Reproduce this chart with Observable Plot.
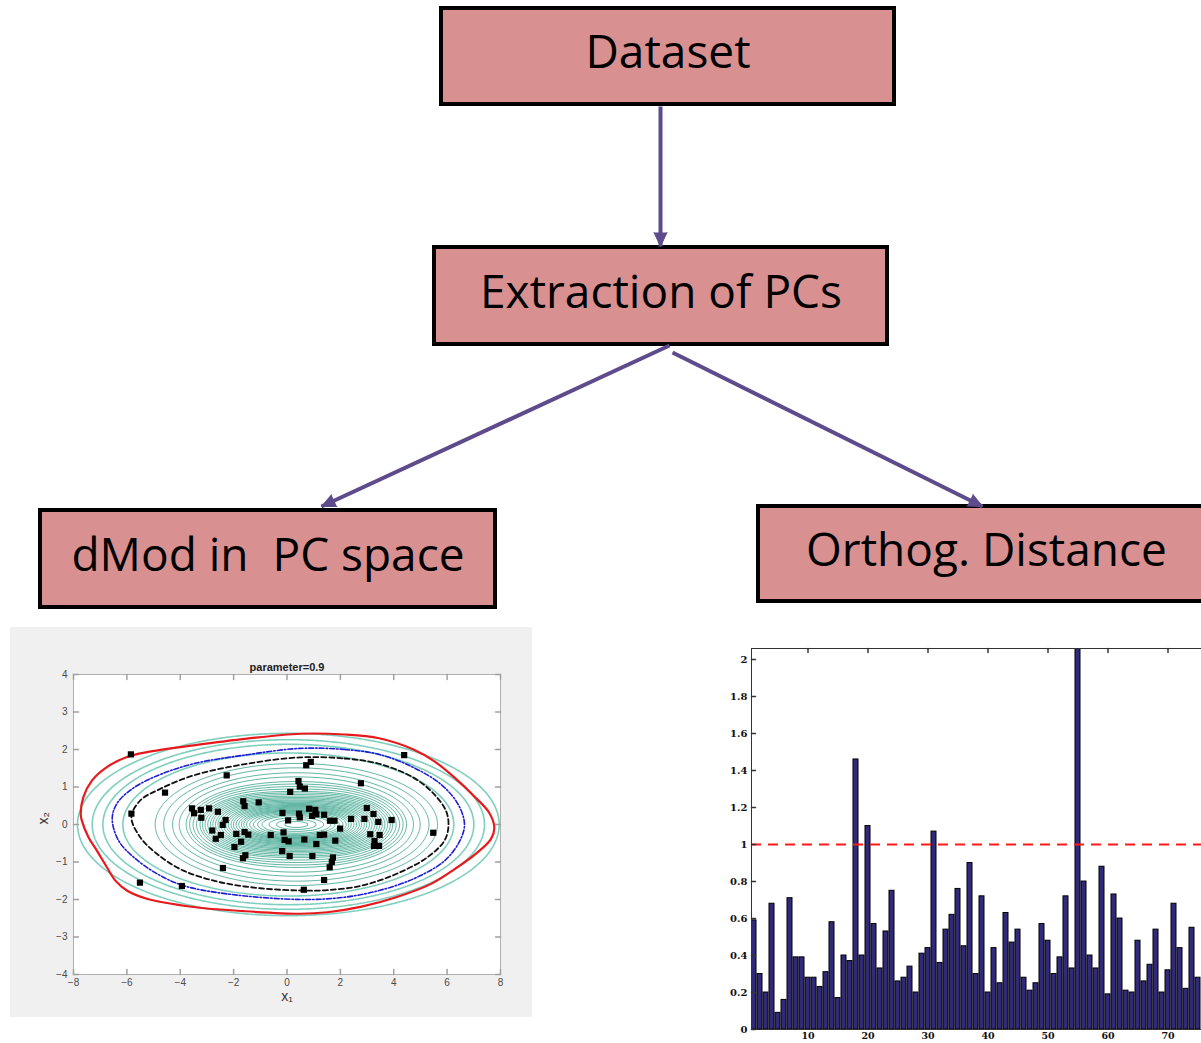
<!DOCTYPE html>
<html><head><meta charset="utf-8">
<script src="https://cdn.jsdelivr.net/npm/d3@7"></script>
<script src="https://cdn.jsdelivr.net/npm/@observablehq/plot@0.6"></script>
<style>
html,body{margin:0;padding:0;background:#fff;overflow:hidden;}
#page{position:relative;width:1201px;height:1043px;overflow:hidden;background:#fff;}
#page svg{position:absolute;max-width:none;}
text{white-space:pre;}
</style></head><body><div id="page"></div>
<script>
// ---------- data ----------
const boxLabels = ["Dataset", "Extraction of PCs", "dMod in  PC space", "Orthog. Distance"];

const scatterX1 = [-5.85, 4.39, 0.72, 0.89, -2.26, 2.77, -4.57, 0.43, 0.48, 0.67, 0.12, -1.64, -1.59, -1.06, -3.56, -3.48, -3.23, -3.21, -2.92, -2.59, -5.83, -2.30, -2.41, -0.17, 0.04, 0.45, 0.48, 0.83, 1.06, 1.10, 0.94, 1.39, 1.61, 1.78, 1.99, 2.40, 2.99, 3.24, 2.90, 3.42, 3.92, 5.48, -2.80, -2.48, -2.67, -1.90, -1.59, -1.45, -1.72, -1.97, -0.61, -0.13, -0.09, 0.06, 0.65, 1.10, 1.23, 1.39, 1.81, 3.12, 3.47, 3.28, 3.26, 3.45, -0.18, 0.10, -1.56, -1.65, 0.95, 1.72, 1.68, 1.60, -2.40, 1.39, -5.51, -3.94, 0.63];
const scatterX2 = [1.87, 1.85, 1.58, 1.67, 1.31, 1.10, 0.85, 1.16, 1.01, 0.96, 0.87, 0.62, 0.49, 0.59, 0.43, 0.30, 0.39, 0.18, 0.43, 0.34, 0.29, 0.12, -0.01, 0.31, 0.11, 0.29, 0.19, 0.42, 0.39, 0.27, 0.23, 0.26, 0.10, 0.10, -0.11, 0.15, 0.44, 0.28, 0.15, 0.07, 0.12, -0.22, -0.16, -0.28, -0.38, -0.25, -0.20, -0.27, -0.46, -0.60, -0.28, -0.21, -0.41, -0.45, -0.40, -0.52, -0.28, -0.27, -0.43, -0.26, -0.28, -0.44, -0.57, -0.57, -0.71, -0.84, -0.82, -0.90, -0.84, -0.88, -1.00, -1.14, -1.16, -1.48, -1.55, -1.64, -1.74];

// highlighted contours
const redX = [0.5, 2.15, 3.45, 4.74, 5.51, 6.28, 7.06, 7.57, 7.77, 7.64, 7.06, 6.28, 5.38, 4.09, 2.8, 1.51, 0.5, -1.63, -3.5, -5.25, -6.0, -6.44, -6.75, -7.13, -7.44, -7.69, -7.73, -7.63, -7.31, -6.75, -6.0, -5.25, -3.5, -1.5];
const redY = [2.42, 2.40, 2.30, 2.0, 1.69, 1.25, 0.72, 0.32, -0.08, -0.39, -0.79, -1.19, -1.59, -1.94, -2.19, -2.34, -2.38, -2.31, -2.2, -1.98, -1.76, -1.49, -1.14, -0.69, -0.34, 0.11, 0.28, 0.73, 1.17, 1.53, 1.80, 1.93, 2.11, 2.29];
const blueX = [0.5, 2.15, 3.45, 4.74, 5.77, 6.41, 6.65, 6.48, 5.9, 4.74, 3.45, 2.15, 0.5, -2.25, -3.88, -4.88, -5.75, -6.31, -6.55, -6.38, -5.88, -5.0, -3.5, -1.5];
const blueY = [2.03, 2.0, 1.87, 1.52, 1.07, 0.54, 0.01, -0.43, -0.97, -1.45, -1.76, -1.94, -2.0, -1.85, -1.63, -1.31, -0.87, -0.43, 0.15, 0.55, 0.91, 1.26, 1.62, 1.86];
const blackX = [0.5, 2.15, 3.45, 4.74, 5.51, 5.96, 6.05, 5.9, 5.25, 4.09, 2.8, 1.51, 0.5, -1.0, -2.5, -3.88, -4.88, -5.5, -5.83, -5.5, -4.75, -3.5, -1.5];
const blackY = [1.79, 1.76, 1.62, 1.25, 0.81, 0.36, -0.04, -0.43, -0.88, -1.32, -1.63, -1.75, -1.76, -1.70, -1.54, -1.23, -0.78, -0.34, 0.2, 0.64, 0.95, 1.31, 1.62];

// teal contour levels (half-width along the x1 axis)
const tealInner = [0.45, 0.75, 1.03, 1.29, 1.45, 1.61, 1.75, 1.87, 1.97, 2.06, 2.16, 2.26, 2.36, 2.45, 2.55, 2.64, 2.74, 2.84, 2.94, 3.03, 3.13, 3.22, 3.32, 3.42, 3.52, 3.61, 3.74, 3.87, 4.0, 4.13, 4.39, 4.64, 4.97, 5.29];
const tealOuter = [6.2, 6.95, 7.35, 7.9];

const xTicksL = [-8, -6, -4, -2, 0, 2, 4, 6, 8];
const yTicksL = [-4, -3, -2, -1, 0, 1, 2, 3, 4];

const orthoDist = [0.59, 0.30, 0.20, 0.68, 0.09, 0.16, 0.71, 0.39, 0.39, 0.28, 0.28, 0.23, 0.31, 0.58, 0.17, 0.40, 0.37, 1.46, 0.40, 1.10, 0.57, 0.33, 0.53, 0.75, 0.26, 0.28, 0.34, 0.20, 0.41, 0.44, 1.07, 0.36, 0.54, 0.62, 0.76, 0.45, 0.90, 0.30, 0.72, 0.20, 0.44, 0.25, 0.63, 0.47, 0.54, 0.28, 0.21, 0.25, 0.57, 0.48, 0.30, 0.39, 0.72, 0.33, 2.30, 0.80, 0.40, 0.33, 0.88, 0.19, 0.73, 0.60, 0.21, 0.20, 0.48, 0.26, 0.35, 0.54, 0.20, 0.32, 0.68, 0.44, 0.22, 0.55, 0.28];
const cutoff = [1];
const yTicksR = [0, 0.2, 0.4, 0.6, 0.8, 1, 1.2, 1.4, 1.6, 1.8, 2];
const xTicksR = [10, 20, 30, 40, 50, 60, 70];

// ---------- page ----------
const page = document.getElementById("page");
function place(el, left, top) { el.style.left = left + "px"; el.style.top = top + "px"; page.appendChild(el); }

// flowchart
const flowLayout = [
  {x1: 441, x2: 894, y1: 8, y2: 104},
  {x1: 434, x2: 887, y1: 247, y2: 344},
  {x1: 40, x2: 495, y1: 510, y2: 607},
  {x1: 758, x2: 1214, y1: 506, y2: 601}
];
const boxes = boxLabels.map((label, i) => ({label, ...flowLayout[i]}));
const arrows = [
  {x1: 660, y1: 106, x2: 660, y2: 246},
  {x1: 669, y1: 345, x2: 321, y2: 506},
  {x1: 672, y1: 352, x2: 982, y2: 506}
];
const purple = "#5e4b8b";
const flow = Plot.plot({
  width: 1201, height: 1043, margin: 0,
  x: {domain: [0, 1201], range: [0, 1201], axis: null},
  y: {domain: [0, 1043], range: [0, 1043], axis: null},
  style: {background: "transparent", overflow: "visible"},
  marks: [
    Plot.rect(boxes, {x1: "x1", x2: "x2", y1: "y1", y2: "y2", fill: "#d99090", stroke: "#000", strokeWidth: 4}),
    Plot.text(boxes, {x: d => (d.x1 + d.x2) / 2, y: d => (d.y1 + d.y2) / 2 - 3, text: "label", fontSize: 46, fontFamily: "Open Sans", fill: "#000"}),
    Plot.link(arrows, {x1: "x1", y1: "y1", x2: "x2", y2: "y2", stroke: purple, strokeWidth: 4}),
    Plot.vector(arrows, {x: "x2", y: "y2", anchor: "end", shape: "spike", length: 14, r: 6.5,
      rotate: d => Math.atan2(d.x2 - d.x1, -(d.y2 - d.y1)) * 180 / Math.PI, fill: purple, stroke: purple, strokeWidth: 1})
  ]
});
place(flow, 0, 0);

// inward tick shape
const tickShape = {draw(ctx, l) { ctx.moveTo(0, 0); ctx.lineTo(0, -l); }};

// left: contour plot
const pts = scatterX1.map((x, i) => ({x, y: scatterX2[i]}));
const toPts = (xs, ys) => xs.map((x, i) => ({x, y: ys[i]}));
const innerField = (x, y) => {
  const A = 3.2, U = ((x - 0.35) / A) ** 2, V = y * y;
  return A * Math.sqrt(U + V * (1 + 2.2 * Math.exp(-1.6 * (U + V))));
};
const outerField = (x, y) => {
  const A = 3.25, U = ((x - 0.05) / A) ** 2, V = y * y;
  return A * Math.sqrt(U + V);
};
const tickCol = "#a0a0a0";
const left = Plot.plot({
  width: 522, height: 390,
  marginLeft: 63, marginRight: 32, marginTop: 47, marginBottom: 43,
  x: {domain: [-8, 8], axis: null},
  y: {domain: [-4, 4], axis: null},
  style: {background: "#f0f0f0", fontFamily: "Liberation Sans, Arial, sans-serif", fontSize: "10px", color: "#4a4a4a"},
  marks: [
    Plot.frame({fill: "#fff", stroke: "none"}),
    Plot.contour({x1: -10, x2: 10, y1: -5, y2: 5, value: innerField, thresholds: tealInner, fill: "none", stroke: "#2f9f86", strokeWidth: 0.9, strokeOpacity: 0.85, clip: true}),
    Plot.contour({x1: -10, x2: 10, y1: -5, y2: 5, value: outerField, thresholds: tealOuter, fill: "none", stroke: "#7fcfbf", strokeWidth: 1.6, clip: true}),
    Plot.line(toPts(redX, redY), {x: "x", y: "y", curve: "catmull-rom-closed", stroke: "#e8191c", strokeWidth: 2.2}),
    Plot.line(toPts(blueX, blueY), {x: "x", y: "y", curve: "catmull-rom-closed", stroke: "#1d1dd6", strokeWidth: 1.6, strokeDasharray: "5,2,1.5,2"}),
    Plot.line(toPts(blackX, blackY), {x: "x", y: "y", curve: "catmull-rom-closed", stroke: "#111", strokeWidth: 1.8, strokeDasharray: "5,3"}),
    Plot.dot(pts, {x: "x", y: "y", symbol: "square", r: 3.5, fill: "#000", stroke: "none"}),
    Plot.frame({stroke: "#b0b0b0"}),
    Plot.vector(xTicksL, {x: d => d, frameAnchor: "bottom", rotate: 0, anchor: "start", length: 5, shape: tickShape, stroke: tickCol}),
    Plot.vector(xTicksL, {x: d => d, frameAnchor: "top", rotate: 180, anchor: "start", length: 5, shape: tickShape, stroke: tickCol}),
    Plot.vector(yTicksL, {y: d => d, frameAnchor: "left", rotate: 90, anchor: "start", length: 5, shape: tickShape, stroke: tickCol}),
    Plot.vector(yTicksL, {y: d => d, frameAnchor: "right", rotate: 270, anchor: "start", length: 5, shape: tickShape, stroke: tickCol}),
    Plot.axisX({ticks: xTicksL, tickSize: 0, tickPadding: 4, label: null, fill: "#4a4a4a"}),
    Plot.axisY({ticks: yTicksL, tickSize: 0, tickPadding: 6, label: null, fill: "#4a4a4a"}),
    Plot.text(["parameter=0.9"], {frameAnchor: "top", dy: -11, fontWeight: "bold", fontSize: 11, fill: "#222"}),
    Plot.text(["x\u2081"], {frameAnchor: "bottom", dy: 26, fontSize: 14, fill: "#333"}),
    Plot.text(["x\u2082"], {frameAnchor: "left", dx: -30, rotate: -90, fontSize: 14, fill: "#333"})
  ]
});
place(left, 10, 627);

// right: bar chart
const bars = orthoDist.map((v, i) => ({i: i + 1, v}));
const right = Plot.plot({
  width: 560, height: 430,
  marginLeft: 51, marginRight: 11, marginTop: 18, marginBottom: 31,
  x: {type: "band", domain: d3.range(1, 84), paddingInner: 0.16, paddingOuter: 0.08, axis: null},
  y: {domain: [0, 2.06], axis: null},
  style: {background: "transparent", fontFamily: "DejaVu Serif, serif", fontSize: "10px", color: "#111", overflow: "visible"},
  marks: [
    Plot.barY(bars, {x: "i", y: "v", fill: "#30297c", stroke: "#000", strokeWidth: 1, clip: true}),
    Plot.ruleY(cutoff, {stroke: "#ff1a1a", strokeWidth: 2, strokeDasharray: "10,7"}),
    Plot.frame({stroke: "#333"}),
    Plot.vector(xTicksR, {x: d => d, frameAnchor: "top", rotate: 180, anchor: "start", length: 4, shape: tickShape, stroke: "#333"}),
    Plot.vector(yTicksR, {y: d => d, frameAnchor: "left", rotate: 90, anchor: "start", length: 4, shape: tickShape, stroke: "#333"}),
    Plot.axisY({ticks: yTicksR, tickSize: 0, tickPadding: 4, label: null, fontWeight: "bold", fill: "#111", tickFormat: d => String(d)}),
    Plot.axisX({ticks: xTicksR, tickSize: 0, tickPadding: 3, label: null, fontWeight: "bold", fontSize: 9.5, fill: "#111", tickFormat: d => String(d)})
  ]
});
place(right, 700, 630);
</script>
</body></html>
